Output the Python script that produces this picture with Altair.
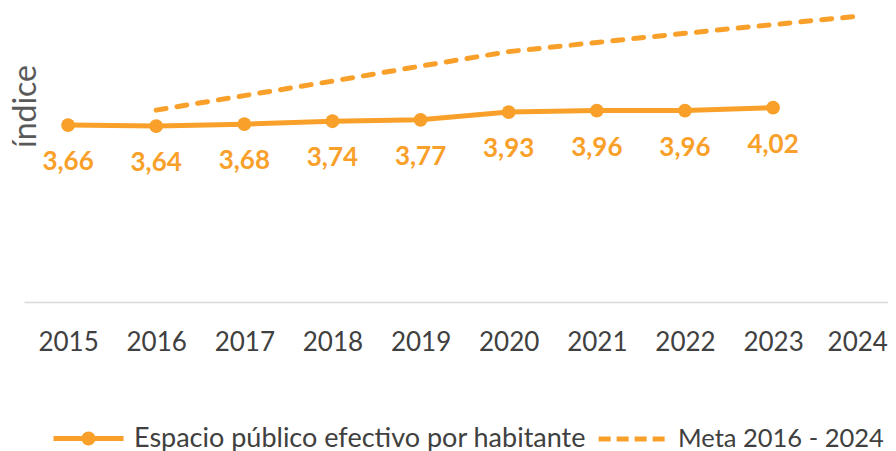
import altair as alt
import pandas as pd

# ---- data ----
years = [2015, 2016, 2017, 2018, 2019, 2020, 2021, 2022, 2023]
valores = [3.66, 3.64, 3.68, 3.74, 3.77, 3.93, 3.96, 3.96, 4.02]
meta_years = [2016, 2017, 2018, 2019, 2020, 2021, 2022, 2023, 2024]
meta_vals = [3.97, 4.27, 4.57, 4.88, 5.18, 5.37, 5.56, 5.74, 5.92]
tick_years = [2015, 2016, 2017, 2018, 2019, 2020, 2021, 2022, 2023, 2024]
serie1 = "Espacio público efectivo por habitante"
serie2 = "Meta 2016 - 2024"

ORANGE = "#F9A02A"
TEXT = "#404040"

df1 = pd.DataFrame({"anio": years, "valor": valores, "serie": serie1})
df1["etiqueta"] = [f"{v:.2f}".replace(".", ",") for v in valores]
df2 = pd.DataFrame({"anio": meta_years, "valor": meta_vals, "serie": serie2})

xscale = alt.Scale(domain=[2014.5, 2024.304], nice=False, zero=False)
yscale = alt.Scale(domain=[0, 6], nice=False, zero=True)
xaxis = alt.Axis(values=tick_years, format="d", title=None, grid=False, ticks=False,
                 domain=True, domainColor="#D9D9D9", domainWidth=1.5,
                 labelFont="Lato", labelFontSize=26, labelColor=TEXT,
                 labelPadding=27, labelFlush=False, labelOverlap=False,
                 labelOffset={"condition": {"test": "datum.value == 2024", "value": -4}, "value": 0})
yaxis = alt.Axis(title="índice", labels=False, ticks=False, domain=False, grid=False,
                 titleX=11, titleY=94, titleAngle=270, titleBaseline="alphabetic",
                 titleAlign="center", titleFont="Lato", titleFontSize=32,
                 titleFontWeight="normal", titleColor="#595959")

X = alt.X("anio:Q", scale=xscale, axis=xaxis)
Y = alt.Y("valor:Q", scale=yscale, axis=yaxis)

dot_path = ("M-1,0L1,0"
            "M0.13,0A0.13,0.13,0,1,1,-0.13,0A0.13,0.13,0,1,1,0.13,0"
            "M0.035,0A0.035,0.035,0,1,1,-0.035,0A0.035,0.035,0,1,1,0.035,0")

legend1 = alt.Legend(title=None, orient="none", legendX=27, legendY=389,
                     symbolType=dot_path, symbolSize=4900, symbolStrokeWidth=5,
                     labelFont="Lato", labelFontSize=27, labelColor=TEXT,
                     labelOffset=8, labelLimit=0, padding=0)
legend2 = alt.Legend(title=None, orient="none", legendX=572, legendY=389,
                     symbolType="stroke", symbolSize=5000, symbolStrokeWidth=5,
                     symbolDash=[12, 6],
                     labelFont="Lato", labelFontSize=25.5, labelColor=TEXT,
                     labelOffset=6, labelLimit=0, padding=0)

line1 = alt.Chart(df1).mark_line(strokeWidth=5).encode(
    x=X, y=Y,
    color=alt.Color("serie:N", scale=alt.Scale(domain=[serie1], range=[ORANGE]), legend=legend1),
)
points1 = alt.Chart(df1).mark_circle(size=190, opacity=1, color=ORANGE).encode(x=X, y=Y)
labels1 = alt.Chart(df1).mark_text(dy=37, baseline="middle", font="Lato", fontSize=26,
                                   fontWeight="bold", color=ORANGE).encode(
    x=X, y=Y, text="etiqueta:N")
meta = alt.Chart(df2).mark_line(strokeWidth=5, strokeDash=[10, 11], strokeCap="round").encode(
    x=X, y=Y,
    color=alt.Color("serie:N", scale=alt.Scale(domain=[serie2], range=[ORANGE]), legend=legend2),
)

chart = alt.layer(meta, line1, points1, labels1).resolve_scale(
    color="independent"
).resolve_legend(color="independent").properties(
    width=864, height=290,
    autosize=alt.AutoSizeParams(type="none"),
    padding={"left": 16, "top": 4, "right": 0, "bottom": 149},
).configure_view(stroke=None)

chart.save("out.html", embed_options={"renderer": "svg", "actions": False})
